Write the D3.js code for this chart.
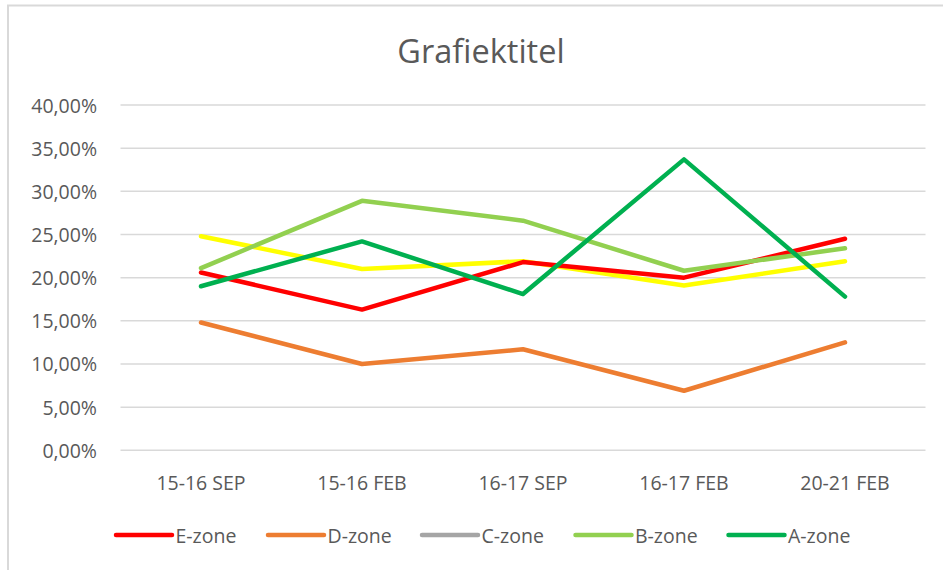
<!DOCTYPE html>
<html>
<head>
<meta charset="utf-8">
<script src="https://cdn.jsdelivr.net/npm/d3@7"></script>
<style>
  html, body { margin: 0; padding: 0; background: #ffffff; }
  svg { display: block; }
  text { font-family: "Open Sans", "Noto Sans", sans-serif; fill: #595959; }
</style>
</head>
<body>
<svg id="chart" width="943" height="570"></svg>
<script>
// ---- data ----
const title = "Grafiektitel";
const categories = ["15-16 SEP", "15-16 FEB", "16-17 SEP", "16-17 FEB", "20-21 FEB"];
const yTicks = [0, 5, 10, 15, 20, 25, 30, 35, 40];
const seriesNames = ["E-zone", "D-zone", "C-zone", "B-zone", "A-zone"];
const eZone = [20.6, 16.3, 21.8, 20.0, 24.5];
const dZone = [14.8, 10.0, 11.7, 6.9, 12.5];
const cZone = [24.8, 21.0, 21.9, 19.1, 21.9];
const bZone = [21.1, 28.9, 26.6, 20.8, 23.4];
const aZone = [19.0, 24.2, 18.1, 33.7, 17.8];
const lineColors = ["#FF0000", "#ED7D31", "#FFFF00", "#92D050", "#00B050"];
const legendColors = ["#FF0000", "#ED7D31", "#A5A5A5", "#92D050", "#00B050"];
const drawOrder = [2, 0, 1, 3, 4];

const seriesValues = [eZone, dZone, cZone, bZone, aZone];

const svg = d3.select("#chart");

// chart area border
svg.append("rect")
  .attr("x", 8).attr("y", 5.5)
  .attr("width", 960).attr("height", 600)
  .attr("fill", "none")
  .attr("stroke", "#d9d9d9")
  .attr("stroke-width", 2);

const x = d3.scalePoint().domain(categories).range([201, 845]);
const y = d3.scaleLinear().domain([0, 40]).range([450.3, 105]);

// title
svg.append("text")
  .attr("x", 481).attr("y", 50.5)
  .attr("text-anchor", "middle")
  .attr("dominant-baseline", "central")
  .style("font-size", "32.5px")
  .text(title);

// gridlines
svg.append("g").selectAll("line").data(yTicks).join("line")
  .attr("x1", 120.5).attr("x2", 925.5)
  .attr("y1", d => y(d)).attr("y2", d => y(d))
  .attr("stroke", "#d9d9d9").attr("stroke-width", 1.5);

// y-axis labels
const fmt = v => v.toFixed(2).replace(".", ",") + "%";
svg.append("g").selectAll("text").data(yTicks).join("text")
  .attr("x", 97).attr("y", d => y(d))
  .attr("text-anchor", "end")
  .attr("dominant-baseline", "central")
  .style("font-size", "19.5px")
  .text(fmt);

// x-axis labels
svg.append("g").selectAll("text").data(categories).join("text")
  .attr("x", d => x(d)).attr("y", 482)
  .attr("text-anchor", "middle")
  .attr("dominant-baseline", "central")
  .style("font-size", "19.5px")
  .text(d => d);

// lines
const line = d3.line()
  .x((d, i) => x(categories[i]))
  .y(d => y(d));

svg.append("g").selectAll("path").data(drawOrder).join("path")
  .attr("d", i => line(seriesValues[i]))
  .attr("fill", "none")
  .attr("stroke", i => lineColors[i])
  .attr("stroke-width", 4.5)
  .attr("stroke-linecap", "round")
  .attr("stroke-linejoin", "round");

// legend
const legendX = [116, 268, 422, 575.5, 728.5];
const lg = svg.append("g").selectAll("g").data(seriesNames).join("g")
  .attr("transform", (d, i) => `translate(${legendX[i]},535)`);
lg.append("line")
  .attr("x1", 0).attr("x2", 56).attr("y1", 0).attr("y2", 0)
  .attr("stroke", (d, i) => legendColors[i])
  .attr("stroke-width", 4.5)
  .attr("stroke-linecap", "round");
lg.append("text")
  .attr("x", 59.5).attr("y", 0)
  .attr("dominant-baseline", "central")
  .style("font-size", "19.5px")
  .text(d => d);
</script>
</body>
</html>
